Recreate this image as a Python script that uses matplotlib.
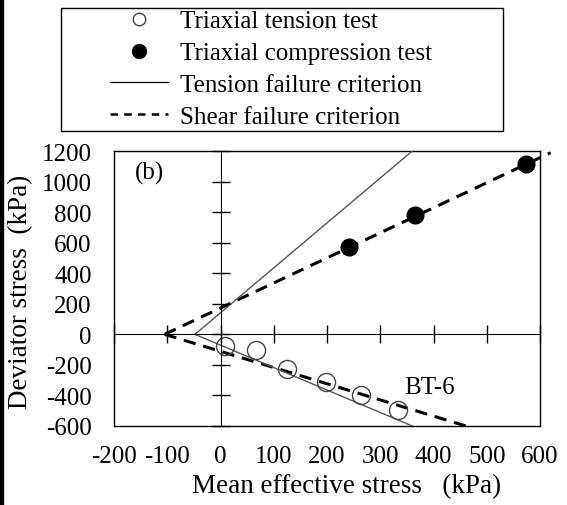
import matplotlib
matplotlib.use("Agg")
import matplotlib.pyplot as plt
import numpy as np
from matplotlib.lines import Line2D
from matplotlib.patches import Rectangle

plt.rcParams['font.family'] = ['Liberation Serif', 'DejaVu Serif']
plt.rcParams['axes.unicode_minus'] = False

# Test results (mean effective stress p, deviator stress q), kPa
tension_p = [8, 67, 125, 199, 263, 334]
tension_q = [-75, -101, -227, -310, -397, -493]
compression_p = [242, 365, 573]
compression_q = [570, 781, 1115]

# Failure criteria: apex on the p axis and slopes of the two branches
shear_apex = -105
shear_slope_comp = 1.64
shear_slope_ext = -1.06
tension_apex = -48
tension_slope_comp = 2.94
tension_slope_ext = -1.47

x_ticks = [-200, -100, 0, 100, 200, 300, 400, 500, 600]
y_ticks = [-600, -400, -200, 0, 200, 400, 600, 800, 1000, 1200]

W, H = 567, 506
fig = plt.figure(figsize=(W / 100, H / 100), dpi=100)
rect = [114 / W, 1 - 427 / H, (540 - 114) / W, (427 - 152) / H]
ax = fig.add_axes(rect)
ax.set_xlim(-200, 600)
ax.set_ylim(-600, 1200)
ax.set_xticks(x_ticks)
ax.set_yticks(y_ticks)
ax.tick_params(length=0, labelsize=18)
ax.tick_params(axis='y', pad=16)
ax.tick_params(axis='x', pad=14)
for s in ax.spines.values():
    s.set_linewidth(1.0)

# Axes through the origin with crossing ticks
ax0 = fig.add_axes(rect, sharex=ax, sharey=ax)
ax0.patch.set_visible(False)
for side in ('top', 'right'):
    ax0.spines[side].set_visible(False)
ax0.spines['left'].set_position(('data', 0))
ax0.spines['bottom'].set_position(('data', 0))
ax0.tick_params(direction='inout', length=13, width=1.0,
                labelleft=False, labelbottom=False)


def branch(apex, slope, x):
    return slope * (x - apex)


dash = (0, (4, 2.6))
pc = np.array([shear_apex, 620])
ax.plot(pc, branch(shear_apex, shear_slope_comp, pc), color='black',
        lw=2.2, ls=dash, clip_on=False, zorder=3)
pe = np.array([shear_apex, 700])
ax.plot(pe, branch(shear_apex, shear_slope_ext, pe), color='black',
        lw=2.2, ls=dash, zorder=3)
pt = np.array([tension_apex, 700])
ax.plot(pt, branch(tension_apex, tension_slope_comp, pt), color='#555555',
        lw=1.0, zorder=3)
ax.plot(pt, branch(tension_apex, tension_slope_ext, pt), color='#555555',
        lw=1.0, zorder=3)
ax.set_xlim(-200, 600)
ax.set_ylim(-600, 1200)

ax.plot(tension_p, tension_q, 'o', mfc='none', mec='#444444', mew=1.0,
        ms=13, zorder=4)
ax.plot(compression_p, compression_q, 'o', color='black', ms=12,
        zorder=4, clip_on=False)

ax.text(-160, 1060, '(b)', fontsize=18, va='center', ha='left')
ax.text(345, -345, 'BT-6', fontsize=18, va='center', ha='left')

ax.set_xlabel('Mean effective stress   (kPa)', fontsize=19.5)
ax.xaxis.set_label_coords((347 - 114) / 426, -0.172)
ax.set_ylabel('Deviator stress  (kPa)', fontsize=19.5)
ax.yaxis.set_label_coords(-0.19, 0.49)

handles = [
    Line2D([], [], ls='none', marker='o', mfc='none', mec='#444444', ms=9),
    Line2D([], [], ls='none', marker='o', color='black', ms=10),
    Line2D([], [], color='black', lw=0.9),
    Line2D([], [], color='black', lw=1.8, ls=(0, (3, 2.5))),
]
labels = ['Triaxial tension test', 'Triaxial compression test',
          'Tension failure criterion', 'Shear failure criterion']
fs_leg = 18
leg = fig.legend(handles, labels, loc='upper left',
                 bbox_to_anchor=(110 / W, 1 - 11 / H), fontsize=fs_leg,
                 frameon=False, handlelength=2.3, handletextpad=0.5,
                 labelspacing=0.37, borderpad=0, borderaxespad=0)

# Legend frame
fig.patches.append(Rectangle((61 / W, 1 - 132 / H), (503 - 61) / W,
                             (132 - 9) / H, transform=fig.transFigure,
                             fill=False, edgecolor='black', lw=1.0))

fig.patches.append(Rectangle((0, 0), 3 / W, 1, transform=fig.transFigure,
                             color='black', zorder=0))

fig.savefig('out.png', dpi=100)
